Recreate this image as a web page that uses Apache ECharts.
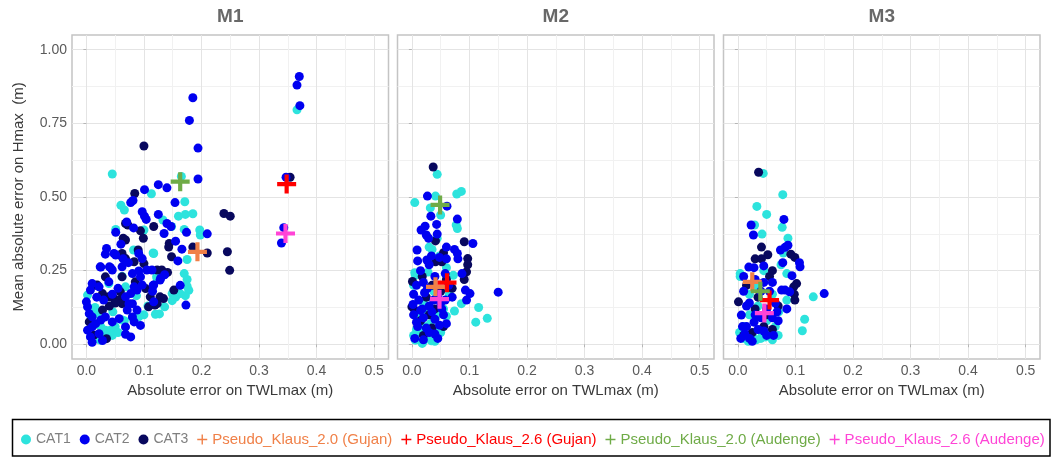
<!DOCTYPE html>
<html>
<head>
<meta charset="utf-8">
<script src="https://cdn.jsdelivr.net/npm/echarts@6/dist/echarts.min.js"></script>
<style>
html, body { margin: 0; padding: 0; background: #fff; }
#chart { width: 1058px; height: 467px; }
</style>
</head>
<body>
<div id="chart"></div>
<script>
const panelNames = ["M1", "M2", "M3"];
const catNames = ["CAT1", "CAT2", "CAT3"];
const pseudoNames = [
    "Pseudo_Klaus_2.0 (Gujan)",
    "Pseudo_Klaus_2.6 (Gujan)",
    "Pseudo_Klaus_2.0 (Audenge)",
    "Pseudo_Klaus_2.6 (Audenge)"
];
const xTickValues = [0, 0.1, 0.2, 0.3, 0.4, 0.5];
const yTickValues = [0, 0.25, 0.5, 0.75, 1];

// M1
const m1Cat1 = [[0.045,0.578],[0.165,0.570],[0.366,0.796],[0.113,0.511],[0.060,0.472],[0.066,0.456],[0.171,0.484],[0.160,0.435],[0.172,0.441],[0.185,0.443],[0.133,0.422],[0.148,0.400],[0.170,0.390],[0.197,0.388],[0.198,0.371],[0.051,0.390],[0.100,0.388],[0.116,0.310],[0.082,0.320],[0.117,0.308],[0.175,0.288],[0.170,0.240],[0.175,0.220],[0.175,0.197],[0.178,0.183],[0.123,0.222],[0.122,0.229],[0.149,0.172],[0.155,0.160],[0.163,0.172],[0.172,0.165],[0.149,0.148],[0.136,0.127],[0.127,0.103],[0.100,0.100],[0.080,0.090],[0.066,0.080],[0.039,0.206],[0.068,0.195],[0.062,0.230],[0.002,0.167],[0.007,0.100],[0.015,0.125],[0.013,0.065],[0.025,0.060],[0.033,0.048],[0.042,0.048],[0.050,0.060],[0.055,0.040],[0.045,0.030],[0.031,0.025],[0.024,0.014],[0.062,0.082],[0.091,0.093],[0.120,0.102],[0.019,0.104],[0.046,0.110],[0.060,0.150],[0.087,0.165],[0.107,0.130]];
const m1Cat2 = [[0.370,0.909],[0.366,0.880],[0.371,0.810],[0.185,0.837],[0.179,0.760],[0.194,0.666],[0.194,0.561],[0.347,0.567],[0.343,0.396],[0.339,0.344],[0.210,0.375],[0.125,0.542],[0.140,0.531],[0.101,0.525],[0.081,0.488],[0.077,0.481],[0.154,0.481],[0.125,0.441],[0.097,0.450],[0.101,0.435],[0.104,0.424],[0.140,0.410],[0.135,0.376],[0.147,0.400],[0.174,0.380],[0.051,0.380],[0.070,0.415],[0.082,0.395],[0.155,0.350],[0.166,0.323],[0.159,0.283],[0.035,0.325],[0.033,0.306],[0.048,0.308],[0.051,0.303],[0.025,0.262],[0.042,0.260],[0.073,0.277],[0.091,0.308],[0.097,0.291],[0.105,0.252],[0.091,0.249],[0.080,0.240],[0.062,0.263],[0.045,0.252],[0.094,0.229],[0.114,0.252],[0.128,0.218],[0.117,0.201],[0.163,0.200],[0.129,0.224],[0.136,0.236],[0.116,0.200],[0.115,0.180],[0.039,0.212],[0.022,0.195],[0.010,0.206],[0.007,0.184],[0.083,0.195],[0.088,0.184],[0.097,0.201],[0.068,0.161],[0.077,0.172],[0.117,0.144],[0.074,0.138],[0.080,0.138],[0.071,0.116],[0.088,0.116],[0.080,0.093],[0.083,0.076],[0.057,0.087],[0.045,0.076],[0.033,0.093],[0.025,0.082],[0.068,0.059],[0.094,0.064],[0.173,0.133],[0.000,0.144],[0.002,0.127],[0.005,0.104],[0.010,0.093],[0.016,0.070],[0.010,0.059],[0.002,0.048],[0.022,0.036],[0.007,0.025],[0.077,0.025],[0.068,0.034],[0.010,0.007],[0.028,0.013],[0.030,0.150],[0.045,0.170],[0.018,0.160],[0.055,0.190],[0.040,0.263],[0.024,0.263],[0.060,0.340],[0.064,0.290]];
const m1Cat3 = [[0.100,0.673],[0.354,0.567],[0.239,0.444],[0.250,0.435],[0.245,0.314],[0.249,0.251],[0.210,0.310],[0.084,0.512],[0.068,0.410],[0.072,0.405],[0.117,0.400],[0.064,0.360],[0.068,0.354],[0.094,0.385],[0.099,0.360],[0.144,0.342],[0.143,0.330],[0.185,0.330],[0.148,0.297],[0.152,0.184],[0.090,0.320],[0.062,0.308],[0.062,0.297],[0.068,0.291],[0.083,0.280],[0.100,0.274],[0.062,0.229],[0.085,0.212],[0.123,0.252],[0.131,0.252],[0.141,0.244],[0.033,0.229],[0.019,0.201],[0.016,0.200],[0.028,0.172],[0.039,0.161],[0.048,0.155],[0.057,0.150],[0.062,0.138],[0.059,0.178],[0.103,0.189],[0.111,0.161],[0.128,0.161],[0.134,0.155],[0.119,0.133],[0.108,0.127],[0.123,0.138],[0.028,0.116],[0.005,0.076],[0.013,0.031],[0.035,0.019],[0.050,0.140],[0.040,0.130]];
const m1Pseudo = [[0.193,0.314],[0.348,0.544],[0.163,0.552],[0.346,0.376]];

// M2
const m2Cat1 = [[0.044,0.577],[0.005,0.481],[0.041,0.503],[0.078,0.510],[0.086,0.519],[0.032,0.463],[0.050,0.439],[0.077,0.405],[0.079,0.393],[0.035,0.322],[0.005,0.243],[0.006,0.234],[0.072,0.234],[0.086,0.138],[0.116,0.125],[0.131,0.088],[0.111,0.075],[0.074,0.113],[0.044,0.360],[0.030,0.330],[0.060,0.260],[0.015,0.050],[0.006,0.014],[0.018,0.003],[0.003,0.030],[0.026,0.025],[0.040,0.010],[0.050,0.040],[0.032,0.070],[0.010,0.090],[0.044,0.100],[0.055,0.120],[0.020,0.140],[0.065,0.170],[0.038,0.180],[0.003,0.200],[0.028,0.245],[0.048,0.300],[0.012,0.040],[0.034,0.012],[0.022,0.060],[0.020,0.010],[0.045,0.055],[0.008,0.050],[0.028,0.105],[0.060,0.095]];
const m2Cat2 = [[0.027,0.503],[0.061,0.469],[0.033,0.435],[0.079,0.425],[0.043,0.407],[0.023,0.401],[0.016,0.388],[0.025,0.371],[0.029,0.360],[0.044,0.374],[0.106,0.342],[0.074,0.322],[0.079,0.308],[0.034,0.300],[0.048,0.295],[0.060,0.290],[0.010,0.283],[0.026,0.286],[0.080,0.290],[0.087,0.240],[0.020,0.210],[0.027,0.190],[0.150,0.177],[0.093,0.184],[0.101,0.172],[0.095,0.150],[0.070,0.160],[0.064,0.200],[0.003,0.170],[0.012,0.150],[0.030,0.130],[0.050,0.140],[0.003,0.100],[0.020,0.090],[0.040,0.085],[0.060,0.070],[0.010,0.060],[0.030,0.040],[0.045,0.020],[0.005,0.020],[0.020,0.015],[0.055,0.100],[0.015,0.250],[0.040,0.230],[0.058,0.240],[0.009,0.320],[0.060,0.330],[0.045,0.160],[0.015,0.115],[0.008,0.200],[0.022,0.175],[0.038,0.150],[0.052,0.120],[0.018,0.120],[0.035,0.110],[0.048,0.065],[0.025,0.055],[0.008,0.075],[0.040,0.035],[0.058,0.150],[0.030,0.270],[0.002,0.135]];
const m2Cat3 = [[0.037,0.602],[0.041,0.351],[0.091,0.348],[0.055,0.311],[0.097,0.291],[0.041,0.280],[0.052,0.280],[0.097,0.270],[0.095,0.246],[0.091,0.220],[0.001,0.213],[0.000,0.127],[0.005,0.116],[0.035,0.200],[0.050,0.180],[0.025,0.160],[0.040,0.120],[0.015,0.080],[0.030,0.100],[0.055,0.060],[0.020,0.030],[0.035,0.055],[0.060,0.220],[0.018,0.230],[0.070,0.190]];
const m2Pseudo = [[0.041,0.195],[0.061,0.209],[0.049,0.473],[0.048,0.153]];

// M3
const m3Cat1 = [[0.044,0.580],[0.078,0.508],[0.033,0.468],[0.050,0.441],[0.029,0.405],[0.077,0.397],[0.042,0.374],[0.087,0.360],[0.079,0.310],[0.075,0.270],[0.085,0.240],[0.004,0.240],[0.004,0.230],[0.131,0.161],[0.085,0.150],[0.071,0.110],[0.116,0.085],[0.112,0.046],[0.010,0.060],[0.025,0.030],[0.040,0.020],[0.055,0.040],[0.020,0.100],[0.035,0.130],[0.050,0.080],[0.065,0.060],[0.010,0.020],[0.030,0.200],[0.060,0.170],[0.045,0.250],[0.020,0.170],[0.070,0.030],[0.032,0.015],[0.048,0.025],[0.018,0.010],[0.060,0.015],[0.040,0.045],[0.003,0.040]];
const m3Cat2 = [[0.080,0.424],[0.023,0.405],[0.027,0.371],[0.074,0.320],[0.082,0.329],[0.087,0.336],[0.107,0.277],[0.108,0.263],[0.150,0.172],[0.045,0.266],[0.019,0.262],[0.028,0.260],[0.078,0.277],[0.094,0.233],[0.082,0.184],[0.090,0.178],[0.076,0.184],[0.006,0.099],[0.020,0.140],[0.040,0.180],[0.060,0.210],[0.030,0.220],[0.010,0.180],[0.050,0.120],[0.065,0.140],[0.015,0.060],[0.035,0.050],[0.050,0.030],[0.005,0.020],[0.020,0.020],[0.060,0.090],[0.040,0.090],[0.070,0.080],[0.012,0.035],[0.028,0.075],[0.008,0.060],[0.025,0.010],[0.045,0.045],[0.062,0.030],[0.030,0.100],[0.015,0.130],[0.055,0.180],[0.045,0.210],[0.068,0.110],[0.085,0.120],[0.010,0.230]];
const m3Cat3 = [[0.036,0.584],[0.041,0.330],[0.052,0.304],[0.092,0.306],[0.099,0.295],[0.030,0.290],[0.041,0.290],[0.060,0.250],[0.055,0.230],[0.102,0.206],[0.097,0.195],[0.098,0.170],[0.099,0.150],[0.001,0.144],[0.030,0.120],[0.050,0.100],[0.025,0.040],[0.060,0.050],[0.015,0.200],[0.035,0.160],[0.070,0.130],[0.045,0.060],[0.010,0.030]];
const m3Pseudo = [[0.025,0.212],[0.055,0.150],[0.039,0.180],[0.046,0.106]];

const panelCats = [[m1Cat1, m1Cat2, m1Cat3], [m2Cat1, m2Cat2, m2Cat3], [m3Cat1, m3Cat2, m3Cat3]];
const panelPseudo = [m1Pseudo, m2Pseudo, m3Pseudo];

const catColors = ["#2de3dd", "#0000f0", "#08085e"];
const pseudoColors = ["#f08048", "#ff0000", "#6fab47", "#ff44d6"];
const font = '"Liberation Sans", Arial, sans-serif';
const plusPath = "path://M3.9,0H6.1V3.9H10V6.1H6.1V10H3.9V6.1H0V3.9H3.9Z";
const legendPlus = "path://M4.3,0H5.7V4.3H10V5.7H5.7V10H4.3V5.7H0V4.3H4.3Z";
const gridLefts = [72, 397.5, 723.5];
const gridWidth = 316.5;
const xNameGaps = [16, 13, 16];

// ticks start at min, so the split line colours cycle to pick out 0.05 / 0.125 steps
const xLineColors = ["rgba(0,0,0,0)", "#e4e4e4", "rgba(0,0,0,0)", "#f1f1f1"];
const yLineColors = ["rgba(0,0,0,0)", "rgba(0,0,0,0)", "#e4e4e4", "rgba(0,0,0,0)", "rgba(0,0,0,0)",
    "rgba(0,0,0,0)", "rgba(0,0,0,0)", "#f1f1f1", "rgba(0,0,0,0)", "rgba(0,0,0,0)"];

function xLabel(v) {
    const t = Math.round(v * 1000);
    return t >= 0 && t % 100 === 0 ? v.toFixed(1) : "";
}

function yLabel(v) {
    const t = Math.round(v * 1000);
    return t >= 0 && t % 250 === 0 ? v.toFixed(2) : "";
}

const grids = [];
const xAxes = [];
const yAxes = [];
const series = [];
const graphics = [];

panelNames.forEach(function (panel, i) {
    grids.push({
        left: gridLefts[i], top: 35, width: gridWidth, height: 324,
        show: true, backgroundColor: "#fff", borderColor: "#c4c4c4", borderWidth: 1.5
    });

    xAxes.push({
        gridIndex: i, type: "value", position: "bottom",
        min: -0.025, max: 0.525, interval: 0.025,
        axisLine: { show: false },
        axisTick: { show: false },
        axisLabel: { formatter: xLabel, color: "#5a5a5a", fontSize: 14, fontFamily: font, margin: 5 },
        splitLine: { show: true, lineStyle: { color: xLineColors, width: 1 } },
        name: "Absolute error on TWLmax (m)",
        nameLocation: "middle",
        nameGap: xNameGaps[i],
        nameTextStyle: { fontSize: 15, color: "#3a3a3a", fontFamily: font }
    });
    xAxes.push({
        gridIndex: i, type: "value", position: "bottom",
        min: -0.025, max: 0.525,
        axisLine: { show: false },
        axisTick: { show: true, customValues: xTickValues, length: 3, lineStyle: { color: "#b5b5b5" } },
        axisLabel: { show: false },
        splitLine: { show: false }
    });

    yAxes.push({
        gridIndex: i, type: "value", position: "left",
        min: -0.05, max: 1.05, interval: 0.025,
        axisLine: { show: false },
        axisTick: { show: false },
        axisLabel: { show: i === 0, formatter: yLabel, color: "#5a5a5a", fontSize: 14, fontFamily: font, margin: 5 },
        splitLine: { show: true, lineStyle: { color: yLineColors, width: 1 } },
        name: i === 0 ? "Mean absolute error on Hmax  (m)" : "",
        nameLocation: "middle",
        nameGap: 46,
        nameTextStyle: { fontSize: 15, color: "#3a3a3a", fontFamily: font }
    });
    yAxes.push({
        gridIndex: i, type: "value", position: "left",
        min: -0.05, max: 1.05,
        axisLine: { show: false },
        axisTick: { show: true, customValues: yTickValues, length: 3, lineStyle: { color: "#b5b5b5" } },
        axisLabel: { show: false },
        splitLine: { show: false }
    });

    // cyan first, then navy, blue on top
    [0, 2, 1].forEach(function (c) {
        series.push({
            type: "scatter",
            name: catNames[c],
            xAxisIndex: 2 * i,
            yAxisIndex: 2 * i,
            data: panelCats[i][c],
            symbolSize: 9,
            itemStyle: { color: catColors[c], opacity: 1 }
        });
    });

    pseudoNames.forEach(function (name, k) {
        series.push({
            type: "scatter",
            name: name,
            xAxisIndex: 2 * i,
            yAxisIndex: 2 * i,
            data: [panelPseudo[i][k]],
            symbol: plusPath,
            symbolSize: 19,
            z: 5,
            itemStyle: { color: pseudoColors[k], opacity: 1 }
        });
    });

    graphics.push({
        type: "text",
        x: gridLefts[i] + gridWidth / 2,
        y: 17,
        style: {
            text: panel, fill: "#686868",
            font: 'bold 19px "Liberation Sans", Arial, sans-serif',
            textAlign: "center", textVerticalAlign: "middle",
            align: "center", verticalAlign: "middle"
        }
    });
});

graphics.push({
    type: "rect",
    shape: { x: 12.5, y: 419.5, width: 1037.5, height: 36.5 },
    style: { fill: "none", stroke: "#000", lineWidth: 1.5 },
    silent: true
});

const legendData = catNames.map(function (name) {
    return { name: name, icon: "circle", textStyle: { color: "#7f7f7f", fontSize: 14 } };
}).concat(pseudoNames.map(function (name, k) {
    return { name: name, icon: legendPlus, textStyle: { color: pseudoColors[k], fontSize: 15 } };
}));

const chart = echarts.init(document.getElementById("chart"));
chart.setOption({
    animation: false,
    backgroundColor: "#fff",
    grid: grids,
    xAxis: xAxes,
    yAxis: yAxes,
    legend: {
        left: 21,
        top: 432,
        padding: 0,
        itemGap: 9,
        itemWidth: 10,
        itemHeight: 10,
        textStyle: { fontFamily: font, fontSize: 15 },
        data: legendData
    },
    graphic: graphics,
    series: series
});

window.addEventListener("resize", () => chart.resize());
</script>
</body>
</html>
